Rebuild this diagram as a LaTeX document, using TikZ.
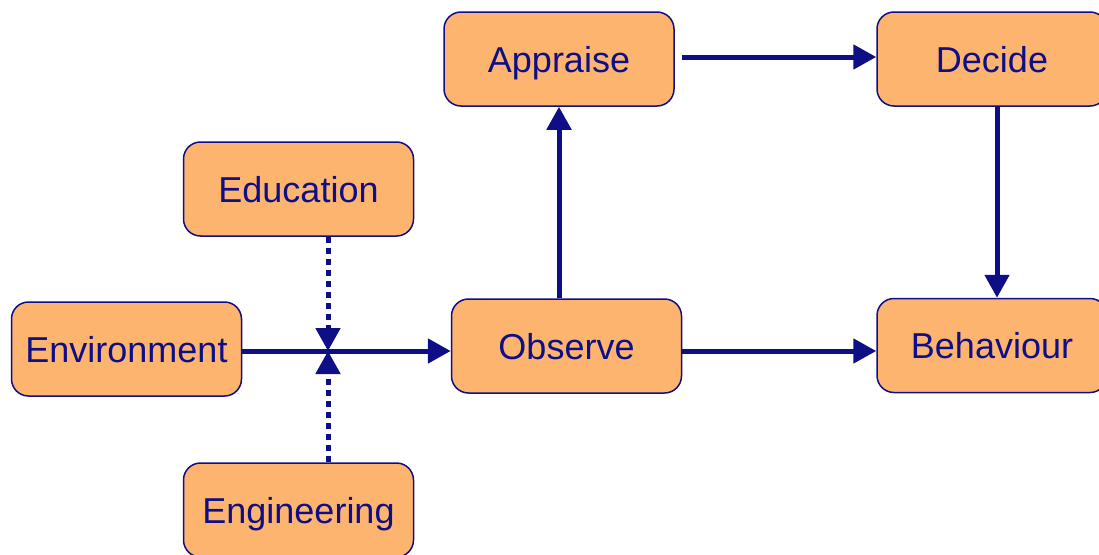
\documentclass[tikz,border=0pt]{standalone}
\usepackage{fontspec}
\setmainfont{Liberation Sans}
\usepackage{tikz}
\usetikzlibrary{arrows.meta,positioning}
\definecolor{boxfill}{RGB}{253,180,110}
\definecolor{navy}{RGB}{14,14,135}
\tikzset{
stagebox/.style={draw=navy, line width=1.5, fill=boxfill, rounded corners=17,
  minimum width=230, minimum height=94, inner sep=2, text=navy,
  text height=26, text depth=0,
  font=\fontsize{36}{40}\selectfont},
flow/.style={draw=navy, line width=5, -{Triangle[length=23,width=24]}},
influence/.style={flow, dash pattern=on 6 off 5},
}

\begin{document}
\begin{tikzpicture}[x=1pt,y=1pt,yscale=-1,xscale=1]
		\useasboundingbox (0,0) rectangle (1099,554);
		
		% Text Node
		\node [stagebox] (app) at (559,59) {Appraise};
		% Text Node
		\node [stagebox] (dec) at (992,59) {Decide};
		% Text Node
		\node [stagebox] (edu) at (298.5,189) {Education};
		% Text Node
		\node [stagebox] (env) at (126.5,349) {Environment};
		% Text Node
		\node [stagebox] (obs) at (566.5,346) {Observe};
		% Text Node
		\node [stagebox] (beh) at (992,345.5) {Behaviour};
		% Text Node
		\node [stagebox] (eng) at (298.5,510) {Engineering};
		
		% meeting point of the dotted arrows
		\coordinate (jn) at (328,351);
		\coordinate (upx) at (997,0);
		
		% Connection
		\draw [flow] (env.east |- jn) -- (obs.west |- jn);
		% Connection
		\draw [influence] (edu.south -| jn) -- (jn);
		% Connection
		\draw [influence] (eng.north -| jn) -- (jn);
		% Connection
		\draw [flow] (app.south |- obs.north) -- (app.south);
		% Connection
		\draw [flow, shorten <=7] (app.east |- 0,57) -- (dec.west |- 0,57);
		% Connection
		\draw [flow] (dec.south -| upx) -- (beh.north -| upx);
		% Connection
		\draw [flow] (obs.east |- jn) -- (beh.west |- jn);
		
\end{tikzpicture}
\end{document}
